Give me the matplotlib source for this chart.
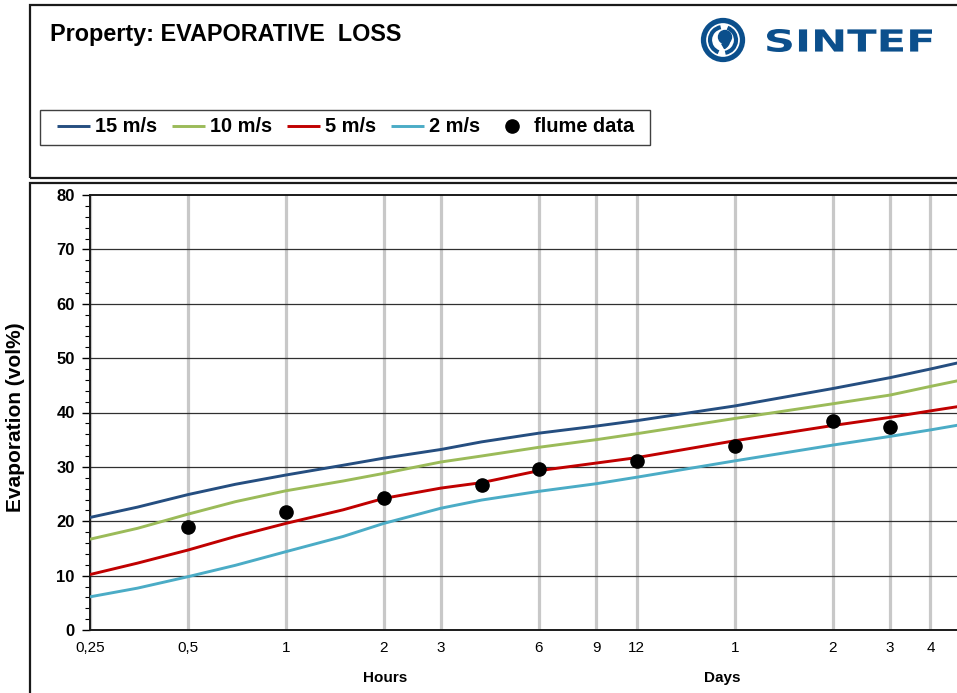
import matplotlib
matplotlib.use("Agg")
import matplotlib.pyplot as plt
from matplotlib.patches import Rectangle, Circle, Arc, PathPatch, Wedge
from matplotlib.textpath import TextPath
from matplotlib.font_manager import FontProperties
from matplotlib.transforms import Affine2D

# ---------------- data ----------------
hours = [0.25, 0.35, 0.5, 0.7, 1, 1.5, 2, 3, 4, 6, 9, 12, 24, 48, 72, 96, 120]
wind15 = [20.7, 22.6, 24.9, 26.8, 28.5, 30.3, 31.6, 33.2, 34.6, 36.2, 37.5, 38.5, 41.2, 44.4, 46.4, 48.0, 49.3]
wind10 = [16.7, 18.7, 21.3, 23.6, 25.6, 27.4, 28.8, 30.9, 32.0, 33.6, 35.0, 36.1, 38.9, 41.6, 43.2, 44.8, 46.0]
wind5 = [10.2, 12.3, 14.7, 17.2, 19.6, 22.1, 24.2, 26.1, 27.1, 29.3, 30.7, 31.7, 34.8, 37.6, 39.1, 40.3, 41.2]
wind2 = [6.1, 7.7, 9.8, 11.9, 14.4, 17.2, 19.6, 22.4, 23.9, 25.5, 26.9, 28.1, 31.1, 34.0, 35.6, 36.8, 37.8]
flume_hours = [0.5, 1, 2, 4, 6, 12, 24, 48, 72]
flume_vals = [18.9, 21.7, 24.2, 26.6, 29.6, 31.1, 33.8, 38.4, 37.3]

tick_pos = [0.25, 0.5, 1, 2, 3, 6, 9, 12, 24, 48, 72, 96, 120]
tick_lab = ["0,25", "0,5", "1", "2", "3", "6", "9", "12", "1", "2", "3", "4", "5"]
series_labels = ["15 m/s", "10 m/s", "5 m/s", "2 m/s"]
series_colors = ["#254E80", "#9BBB59", "#C00000", "#4BACC6"]

W, H = 957, 693
plt.rcParams['font.family'] = ['Liberation Sans', 'DejaVu Sans']
fig = plt.figure(figsize=(W / 100, H / 100), dpi=100)

def fx(px):
    return px / W

def fy(py):
    return (H - py) / H

# frames
fig.add_artist(Rectangle((fx(30), fy(178)), fx(1000) - fx(30), fy(5) - fy(178),
                         transform=fig.transFigure, fill=False, ec="#1a1a1a", lw=1.6, clip_on=False))
fig.add_artist(Rectangle((fx(30), fy(760)), fx(1000) - fx(30), fy(183) - fy(760),
                         transform=fig.transFigure, fill=False, ec="#1a1a1a", lw=1.6, clip_on=False))

# title
fig.text(fx(50), fy(35), "Property: EVAPORATIVE  LOSS", fontsize=16.8, fontweight="bold",
         va="center", ha="left", color="black")

# axes
ax = fig.add_axes([fx(90), fy(630), fx(962) - fx(90), fy(195) - fy(630)])
ax.set_xscale("log")
ax.set_xlim(0.25, 120)
ax.set_ylim(0, 80)

for t in tick_pos:
    ax.axvline(t, color="#C8C8C8", lw=2.3, zorder=1)
for yv in range(10, 80, 10):
    ax.axhline(yv, color="#303030", lw=0.9, zorder=1)

lines = []
for vals, lab, col in zip([wind15, wind10, wind5, wind2], series_labels, series_colors):
    l, = ax.plot(hours, vals, color=col, lw=2.1, label=lab, zorder=3,
                 solid_capstyle="butt", solid_joinstyle="round")
    lines.append(l)
sc, = ax.plot(flume_hours, flume_vals, "o", color="black", ms=9.5, label="flume data", zorder=4)
lines.append(sc)

ax.set_xticks(tick_pos)
ax.set_xticklabels(tick_lab, fontsize=11)
ax.xaxis.set_minor_locator(matplotlib.ticker.NullLocator())
ax.tick_params(axis="x", length=0, pad=8)
ax.set_yticks(range(0, 81, 10))
ax.set_yticks(range(0, 81, 2), minor=True)
ax.tick_params(axis="y", which="major", length=6, width=1, labelsize=12, pad=5)
ax.tick_params(axis="y", which="minor", length=3.5, width=0.8)
for lab in ax.get_yticklabels():
    lab.set_fontweight("bold")
for s in ["left", "bottom", "top"]:
    ax.spines[s].set_linewidth(1.4)
    ax.spines[s].set_color("#1a1a1a")
ax.spines["right"].set_visible(False)

fig.text(fx(16), fy(417), "Evaporation (vol%)", rotation=90, fontsize=15, fontweight="bold",
         ha="center", va="center")

fig.text(fx(385), fy(678), "Hours", fontsize=11, fontweight="bold", ha="center", va="center")
fig.text(fx(722), fy(678), "Days", fontsize=11, fontweight="bold", ha="center", va="center")

# legend (frame drawn separately)
fig.add_artist(Rectangle((fx(40), fy(145)), fx(650) - fx(40), fy(110) - fy(145),
                         transform=fig.transFigure, fill=False, ec="#404040", lw=1.0))
leg = fig.legend(handles=lines, labels=series_labels + ["flume data"], loc="center left",
                 bbox_to_anchor=(fx(57), fy(127)), ncol=5, frameon=False,
                 prop={"weight": "bold", "size": 14.4}, handlelength=1.65, handletextpad=0.25,
                 columnspacing=0.75, borderpad=0, borderaxespad=0)

# SINTEF logo
logo_col = "#0B4F8C"
cx, cy = 723, 40
r = 22
fig.add_artist(Circle((cx, H - cy), r - 2.5, transform=None, fill=False, ec=logo_col, lw=3.8))
fig.add_artist(Arc((cx, H - cy), 2 * (r - 9), 2 * (r - 9), theta1=100, theta2=250,
                   transform=None, ec=logo_col, lw=3.0))
fig.add_artist(Arc((cx, H - cy), 2 * (r - 9), 2 * (r - 9), theta1=280, theta2=430,
                   transform=None, ec=logo_col, lw=3.0))
fig.add_artist(Circle((cx + 2, H - cy + 3), 6.5, transform=None, color=logo_col))
fig.add_artist(Wedge((cx - 4, H - cy + 1), 11, 300, 350, width=5, transform=None, color=logo_col))

fp = FontProperties(family="DejaVu Sans", weight="bold")
tp = TextPath((0, 0), "SINTEF", prop=fp, size=1)
ext = tp.get_extents()
x0, x1, y0, y1 = 767, 932, 29, 52
sx = (x1 - x0) / ext.width
sy = (y1 - y0) / ext.height
trans = Affine2D().translate(-ext.x0, -ext.y0).scale(sx, sy).translate(x0, H - y1)
fig.add_artist(PathPatch(tp, transform=trans, color=logo_col, lw=0))

fig.savefig("out.png", dpi=100)
